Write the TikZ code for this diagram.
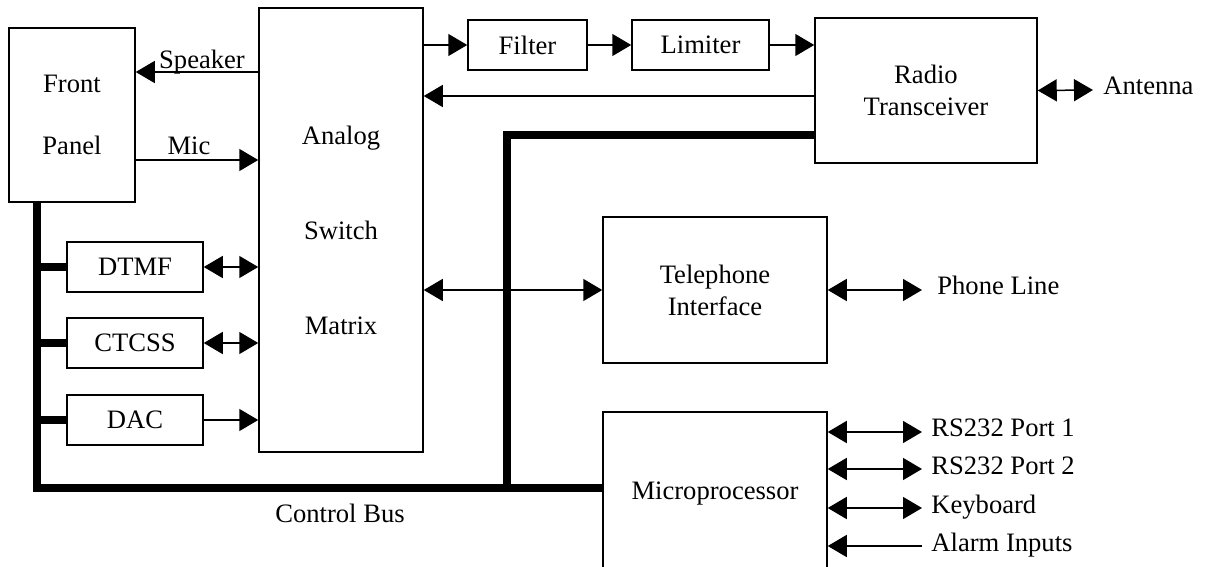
\documentclass[tikz,border=0pt]{standalone}
\usepackage{fontspec}
\setmainfont{Liberation Serif}
\usetikzlibrary{arrows.meta}

\tikzset{
  blk/.style={draw, line width=0.75pt, inner sep=0pt, align=center},
  txt/.style={inner sep=0pt, anchor=base west},
  sig/.style={line width=0.75pt, -{Triangle[length=9.5pt,width=11pt]}},
  duplex/.style={line width=0.75pt, {Triangle[length=9.5pt,width=11pt]}-{Triangle[length=9.5pt,width=11pt]}},
  bus/.style={line width=3.75pt}
}

\begin{document}
\begin{tikzpicture}[x=0.5pt,y=-0.5pt,font=\fontsize{13.3}{16}\selectfont]
\useasboundingbox (0,0) rectangle (1207,567);

% blocks
\node[blk, minimum width=63pt, minimum height=87pt] (front) at (72,115) {Front\\[15pt]Panel};
\node[blk, minimum width=82pt, minimum height=222pt] (asm) at (341,230) {Analog\\[31.5pt]Switch\\[31.5pt]Matrix};
\node[blk, minimum width=59.5pt, minimum height=25pt] (filt) at (527.5,45) {Filter};
\node[blk, minimum width=68.5pt, minimum height=25pt] (lim) at (700.5,45) {Limiter};
\node[blk, minimum width=111pt, minimum height=72.5pt] (radio) at (926,90.5) {Radio\\Transceiver};
\node[blk, minimum width=68pt, minimum height=25pt] (dtmf) at (135,267) {DTMF};
\node[blk, minimum width=68pt, minimum height=25pt] (ctcss) at (135,343) {CTCSS};
\node[blk, minimum width=68pt, minimum height=25pt] (dac) at (135,420) {DAC};
\node[blk, minimum width=112pt, minimum height=73pt] (tel) at (715,290) {Telephone\\Interface};
\node[blk, minimum width=112pt, minimum height=81.5pt] (mpu) at (715,493.5) {Microprocessor};

% levels and free ends
\coordinate (ySpk) at (0,72);
\coordinate (yMic) at (0,160);
\coordinate (yRx) at (0,96);
\coordinate (yCtl) at (0,135);
\coordinate (busx) at (37,488);
\coordinate (tap) at (507,488);
\coordinate (ant) at (1093,90);
\coordinate (line) at (922,290);
\coordinate (p1) at (922,432);
\coordinate (p2) at (922,469);
\coordinate (kb) at (922,508);
\coordinate (al) at (922,546);

% audio paths
\draw[sig] (asm.west |- ySpk) -- (front.east |- ySpk);
\node[inner sep=0pt] (spk) at (202,62) {Speaker};
\draw[sig] (front.east |- yMic) -- (asm.west |- yMic);
\node[inner sep=0pt] (mic) at (189,146) {Mic};
\draw[duplex] (dtmf.east) -- (asm.west |- dtmf.east);
\draw[duplex] (ctcss.east) -- (asm.west |- ctcss.east);
\draw[sig] (dac.east) -- (asm.west |- dac.east);
\draw[sig] (asm.east |- filt.west) -- (filt.west);
\draw[sig] (filt.east) -- (lim.west);
\draw[sig] (lim.east) -- (radio.west |- lim.east);
\draw[sig] (radio.west |- yRx) -- (asm.east |- yRx);
\draw[duplex] (asm.east |- tel.west) -- (tel.west);

% outside world
\draw[duplex] (radio.east) -- (ant);
\node[txt] (antl) at (1103,95) {Antenna};
\draw[duplex] (tel.east) -- (line);
\node[txt] (linel) at (937,295) {Phone Line};
\draw[duplex] (mpu.east |- p1) -- (p1);
\node[txt] (p1l) at (931,437) {RS232 Port 1};
\draw[duplex] (mpu.east |- p2) -- (p2);
\node[txt] (p2l) at (931,474) {RS232 Port 2};
\draw[duplex] (mpu.east |- kb) -- (kb);
\node[txt] (kbl) at (931,513) {Keyboard};
\draw[sig] (al) -- (mpu.east |- al);
\node[txt] (all) at (931,551) {Alarm Inputs};

% control bus
\draw[bus] (busx |- front.south) -- (busx) -- (busx -| mpu.west);
\draw[bus] (radio.west |- yCtl) -| (tap);
\draw[bus] (busx |- dtmf.west) -- (dtmf.west);
\draw[bus] (busx |- ctcss.west) -- (ctcss.west);
\draw[bus] (busx |- dac.west) -- (dac.west);
\node[inner sep=0pt] (cbus) at (340,513) {Control Bus};

\end{tikzpicture}
\end{document}
